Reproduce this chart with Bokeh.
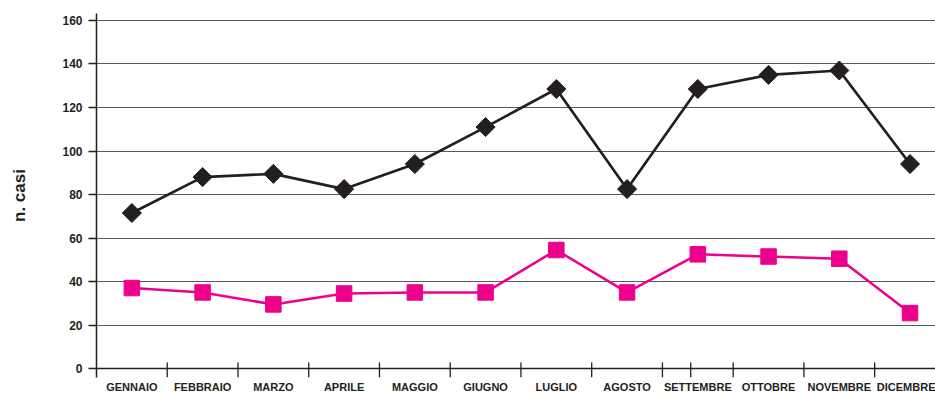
from bokeh.plotting import figure
from bokeh.models import Range1d, FixedTicker, Span, ColumnDataSource
from bokeh.embed import file_html
from bokeh.resources import INLINE

mesi = ["GENNAIO", "FEBBRAIO", "MARZO", "APRILE", "MAGGIO", "GIUGNO",
        "LUGLIO", "AGOSTO", "SETTEMBRE", "OTTOBRE", "NOVEMBRE", "DICEMBRE"]
serie_nera = [71.5, 88, 89.5, 82.5, 94, 111, 128.5, 82.5, 128.5, 135, 137, 94]
serie_rosa = [37, 35, 29.5, 34.5, 35, 35, 54.5, 35, 52.5, 51.5, 50.5, 25.5]
y_ticks = [0, 20, 40, 60, 80, 100, 120, 140, 160]

BLACK = "#231f20"
PINK = "#ec008c"
FONT = "Liberation Sans"

x_centers = [i + 0.5 for i in range(len(mesi))]
boundaries = [float(i) for i in range(1, len(mesi))] + [8.4]

src = ColumnDataSource(dict(x=x_centers, nera=serie_nera, rosa=serie_rosa))

p = figure(width=935, height=395,
           x_range=Range1d(0, 11.86), y_range=Range1d(-4.1, 163.2),
           output_backend="svg", toolbar_location=None,
           min_border_left=96, min_border_right=0,
           min_border_top=13, min_border_bottom=18)
p.outline_line_color = None
p.background_fill_color = "white"
p.border_fill_color = "white"

# grid
p.xgrid.visible = False
p.ygrid.ticker = FixedTicker(ticks=y_ticks[1:])
p.ygrid.grid_line_color = "#58595b"
p.ygrid.grid_line_width = 1.2

# x axis line at zero + boundary ticks
p.add_layout(Span(location=0, dimension="width", line_color=BLACK, line_width=1.5))
p.segment(x0=boundaries, y0=[-4.1] * len(boundaries), x1=boundaries,
          y1=[2.8] * len(boundaries), line_color=BLACK, line_width=1.3)

# series
p.line("x", "nera", source=src, line_color=BLACK, line_width=2.7)
p.scatter("x", "nera", source=src, marker="square", size=13.5, angle=0.785398,
          fill_color=BLACK, line_color=BLACK)
p.line("x", "rosa", source=src, line_color=PINK, line_width=2.5)
p.scatter("x", "rosa", source=src, marker="square", size=15.5,
          fill_color=PINK, line_color=PINK)

# x axis (labels only)
xa = p.xaxis[0]
xa.ticker = FixedTicker(ticks=x_centers)
xa.major_label_overrides = {xc: m for xc, m in zip(x_centers, mesi)}
xa.axis_line_color = None
xa.major_tick_line_color = None
xa.major_tick_out = 0
xa.major_tick_in = 0
xa.minor_tick_line_color = None
xa.minor_tick_out = 0
xa.minor_tick_in = 0
xa.major_label_standoff = 3
xa.major_label_text_font = FONT
xa.major_label_text_font_style = "bold"
xa.major_label_text_font_size = "11px"
xa.major_label_text_color = BLACK

# y axis
ya = p.yaxis[0]
ya.ticker = FixedTicker(ticks=y_ticks)
ya.axis_line_color = BLACK
ya.axis_line_width = 1.5
ya.major_tick_line_color = BLACK
ya.major_tick_line_width = 1.3
ya.major_tick_out = 8
ya.major_tick_in = 0
ya.minor_tick_line_color = None
ya.major_label_standoff = 6
ya.major_label_text_font = FONT
ya.major_label_text_font_style = "bold"
ya.major_label_text_font_size = "12px"
ya.major_label_text_color = BLACK
ya.axis_label = "n. casi"
ya.axis_label_text_font = FONT
ya.axis_label_text_font_style = "bold"
ya.axis_label_text_font_size = "17px"
ya.axis_label_text_color = BLACK
ya.axis_label_standoff = 30

open("out.html", "w").write(file_html(p, INLINE))
